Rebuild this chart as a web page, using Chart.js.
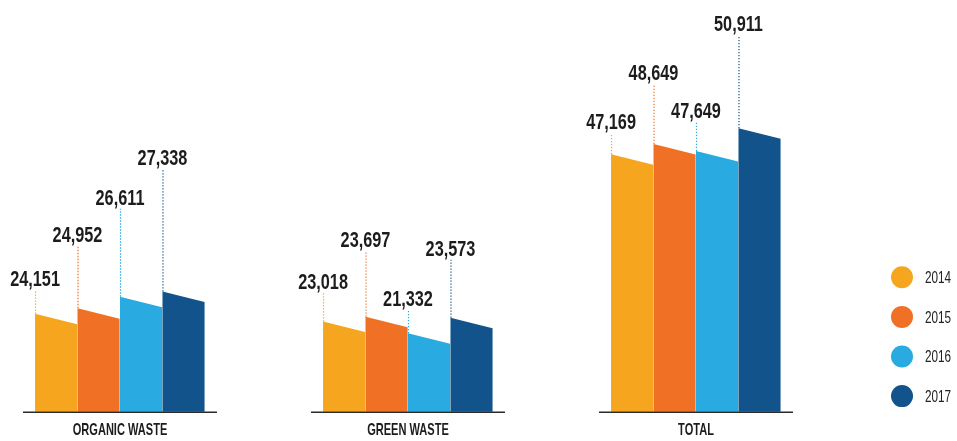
<!DOCTYPE html>
<html>
<head>
<meta charset="utf-8">
<script src="https://cdn.jsdelivr.net/npm/chart.js@4.4.1/dist/chart.umd.min.js"></script>
<style>
    html, body { margin: 0; padding: 0; background: #fff; }
    #wrap { position: relative; width: 957px; height: 441px; }
</style>
</head>
<body>
<div id="wrap"><canvas id="wasteChart"></canvas></div>
<script>
// Waste collected (tonnes) per category, one array per year
const categories = ['ORGANIC WASTE', 'GREEN WASTE', 'TOTAL'];
const years = ['2014', '2015', '2016', '2017'];
const values2014 = [24151, 23018, 47169];
const values2015 = [24952, 23697, 48649];
const values2016 = [26611, 21332, 47649];
const values2017 = [27338, 23573, 50911];

const yearColors = ['#F6A51F', '#F07125', '#29AAE1', '#11538A'];

// How far each value label is lifted above its bar (px), per year
const labelLift = [
    [24, 29, 21],
    [62, 66, 60],
    [88, 23, 29],
    [123, 58, 93]
];

const FONT = "'Liberation Sans', Arial, sans-serif";
const SLANT = 10.5;   // drop of the bar top from left to right corner

// no condensed face is installed, so squeeze text horizontally
const squeezeText = (ctx, text, x, y, sx) => {
    ctx.save();
    ctx.translate(x, y);
    ctx.scale(sx, 1);
    ctx.fillText(text, 0, 0);
    ctx.restore();
};

/**
 * Draws the slanted bars, dotted leaders with value labels,
 * the per-group baselines, category names and the legend
 */
const slantedBars = {
    id: 'slantedBars',
    afterDatasetsDraw(chart) {
        const ctx = chart.ctx;
        const area = chart.chartArea;
        ctx.save();

        chart.data.datasets.forEach((ds, di) => {
            const meta = chart.getDatasetMeta(di);
            meta.data.forEach((bar, i) => {
                const left = bar.x - bar.width / 2;
                const right = bar.x + bar.width / 2;
                const base = area.bottom;

                // bar body with a sloping top
                ctx.fillStyle = yearColors[di];
                ctx.beginPath();
                ctx.moveTo(left, base);
                ctx.lineTo(left, bar.y);
                ctx.lineTo(right - 0.4, bar.y + SLANT);
                ctx.lineTo(right - 0.4, base);
                ctx.closePath();
                ctx.fill();

                // dotted leader up to the label
                const lift = labelLift[di][i];
                ctx.strokeStyle = yearColors[di];
                ctx.lineWidth = 1.2;
                ctx.setLineDash([1.3, 1.7]);
                ctx.beginPath();
                ctx.moveTo(left + 0.5, bar.y);
                ctx.lineTo(left + 0.5, bar.y - lift);
                ctx.stroke();
                ctx.setLineDash([]);

                // value label
                ctx.fillStyle = '#1c1c1c';
                ctx.font = 'bold 22px ' + FONT;
                ctx.textAlign = 'center';
                ctx.textBaseline = 'alphabetic';
                squeezeText(ctx, ds.data[i].toLocaleString('en-US'), left, bar.y - lift - 4, 0.74);
            });
        });

        // baseline under each group only, with its category name
        const first = chart.getDatasetMeta(0).data;
        const last = chart.getDatasetMeta(chart.data.datasets.length - 1).data;
        const yBase = area.bottom + 0.5;
        ctx.strokeStyle = '#2a2a2a';
        ctx.lineWidth = 1.5;
        ctx.font = 'bold 17px ' + FONT;
        ctx.textAlign = 'center';
        ctx.textBaseline = 'middle';
        ctx.fillStyle = '#1c1c1c';
        first.forEach((bar, i) => {
            const x0 = bar.x - bar.width / 2 - 12;
            const x1 = last[i].x + last[i].width / 2 + 12;
            ctx.beginPath();
            ctx.moveTo(x0, yBase);
            ctx.lineTo(x1, yBase);
            ctx.stroke();
            squeezeText(ctx, chart.data.labels[i], chart.scales.x.getPixelForValue(i), area.bottom + 19, 0.65);
        });

        // legend
        const lx = chart.width - 55;
        ctx.font = '17px ' + FONT;
        ctx.textAlign = 'left';
        ctx.textBaseline = 'middle';
        chart.data.datasets.forEach((ds, di) => {
            const ly = 277.3 + di * 39.6;
            ctx.fillStyle = yearColors[di];
            ctx.beginPath();
            ctx.arc(lx, ly, 11, 0, Math.PI * 2);
            ctx.fill();
            ctx.fillStyle = '#222';
            squeezeText(ctx, ds.label, lx + 23, ly + 1, 0.69);
        });

        ctx.restore();
    }
};

const seriesValues = [values2014, values2015, values2016, values2017];

new Chart(document.getElementById('wasteChart'), {
    type: 'bar',
    data: {
        labels: categories,
        datasets: years.map((year, di) => ({
            label: year,
            data: seriesValues[di],
            backgroundColor: 'rgba(0,0,0,0)',
            borderWidth: 0
        }))
    },
    options: {
        responsive: true,
        maintainAspectRatio: false,
        animation: false,
        events: [],
        categoryPercentage: 0.59,
        barPercentage: 1.0,
        layout: {
            padding: { left: 120, right: 261, top: 10, bottom: 29.3 }
        },
        plugins: {
            legend: { display: false },
            tooltip: { enabled: false }
        },
        scales: {
            x: {
                display: false,
                offset: false
            },
            y: {
                display: false,
                min: 10000,
                max: 68000
            }
        }
    },
    plugins: [slantedBars]
});
</script>
</body>
</html>
